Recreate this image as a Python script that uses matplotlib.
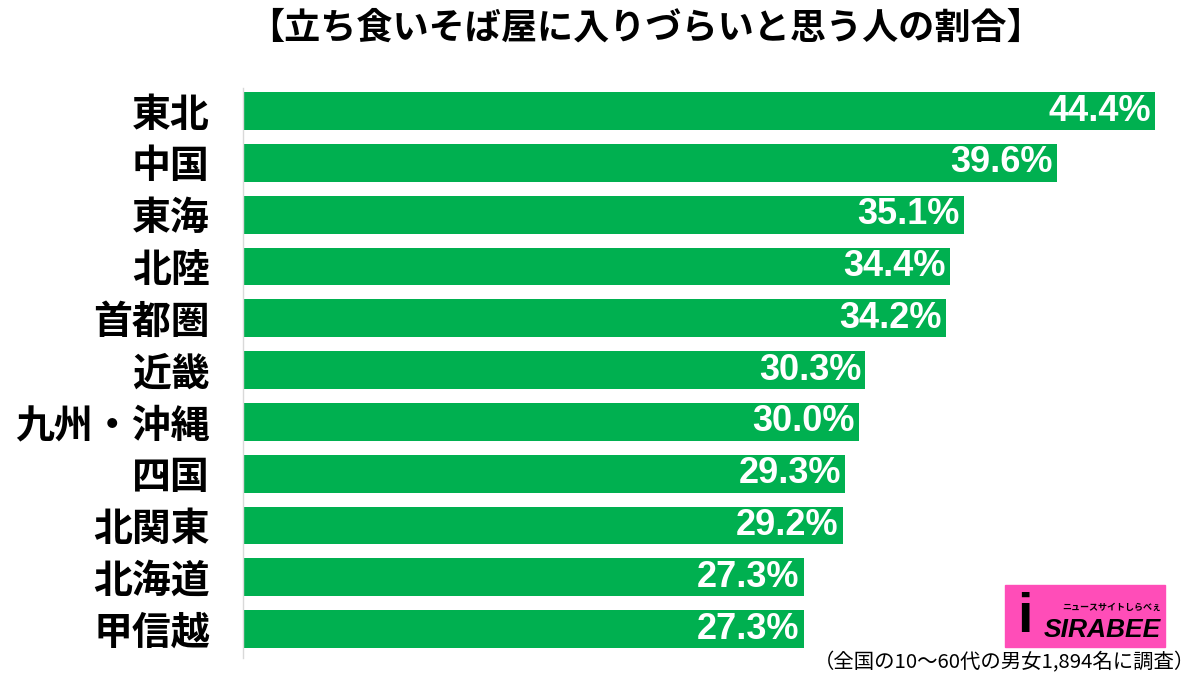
import matplotlib
matplotlib.use("Agg")
import matplotlib.pyplot as plt
from matplotlib.patches import Rectangle

# Data
regions = ["東北", "中国", "東海", "北陸", "首都圏", "近畿", "九州・沖縄",
           "四国", "北関東", "北海道", "甲信越"]
values = [44.4, 39.6, 35.1, 34.4, 34.2, 30.3, 30.0, 29.3, 29.2, 27.3, 27.3]
value_labels = ["44.4%", "39.6%", "35.1%", "34.4%", "34.2%", "30.3%",
                "30.0%", "29.3%", "29.2%", "27.3%", "27.3%"]

title = "【立ち食いそば屋に入りづらいと思う人の割合】"
note = "（全国の10～60代の男女1,894名に調査）"

plt.rcParams['font.family'] = ['Noto Sans CJK JP', 'DejaVu Sans']

fig = plt.figure(figsize=(12, 6.8), dpi=100)
ax = fig.add_axes([243 / 1200, 0.033, (1188 - 243) / 1200, 0.838])

ypos = list(range(len(regions)))
ax.barh(ypos, values, height=0.73, color="#00B050")

# value labels inside the bar ends
for y, v, lab in zip(ypos, values, value_labels):
    ax.text(v - 0.2, y, lab, ha='right', va='center', color='white',
            fontsize=26, fontweight='bold', family='Liberation Sans')

ax.set_xlim(0, 46)
ax.set_ylim(10.55, -0.45)
ax.set_xticks([])
ax.set_yticks(ypos)
ax.set_yticklabels(regions, fontsize=28, fontweight='bold')
ax.tick_params(axis='y', length=0, pad=24)

for s in ['top', 'right', 'bottom']:
    ax.spines[s].set_visible(False)
ax.spines['left'].set_color('#D9D9D9')
ax.spines['left'].set_linewidth(1)

# title and note
fig.text(0.5375, 0.958, title, ha='center', va='center', fontsize=26,
         fontweight='bold')
fig.text(0.996, 0.026, note, ha='right', va='center', fontsize=14.7)

# logo
fig.patches.append(Rectangle((1005 / 1200, 1 - 647 / 680), 160 / 1200, 62 / 680,
                             transform=fig.transFigure, color="#FF4DB8",
                             zorder=5))
fig.text(1025 / 1200, 1 - 618 / 680, "i", ha='center', va='center',
         fontsize=40, fontweight='bold', family='Liberation Sans', zorder=6)
fig.text(1102 / 1200, 1 - 630 / 680, "SIRABEE", ha='center', va='center',
         fontsize=19, fontweight='bold', style='italic',
         family='Liberation Sans', zorder=6)
fig.text(1112 / 1200, 1 - 607 / 680, "ニュースサイトしらべぇ", ha='center',
         va='center', fontsize=6.5, fontweight='bold', zorder=6)

fig.savefig("out.png", dpi=100)
